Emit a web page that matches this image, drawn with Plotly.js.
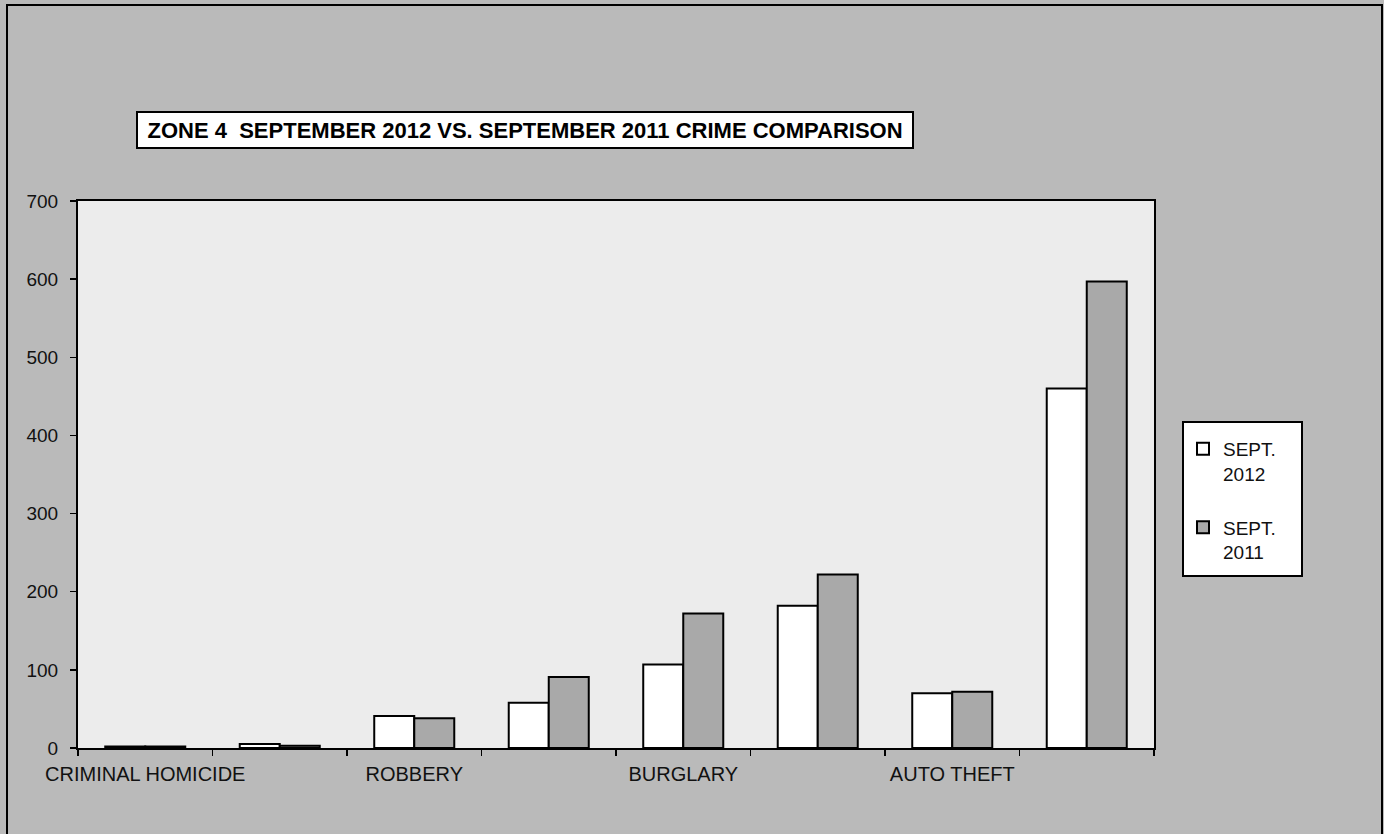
<!DOCTYPE html>
<html>
<head>
<meta charset="utf-8">
<script src="https://cdn.plot.ly/plotly-3.0.1.min.js"></script>
<style>
html,body{margin:0;padding:0;background:#bababa;}
#chart{width:1384px;height:834px;}
</style>
</head>
<body>
<div id="chart"></div>
<script>
// Categories (Excel skipped every other axis label)
const categories = ['CRIMINAL HOMICIDE','RAPE','ROBBERY','AGGRAVATED ASSAULT','BURGLARY','LARCENY','AUTO THEFT','TOTAL'];
const tickLabels = ['CRIMINAL HOMICIDE','','ROBBERY','','BURGLARY','','AUTO THEFT',''];
const seriesNames = ['SEPT.<br>2012','SEPT.<br>2011'];
const sept2012 = [2, 5, 41, 58, 107, 182, 70, 460];
const sept2011 = [2, 3, 38, 91, 172, 222, 72, 597];
const yTicks = [0,100,200,300,400,500,600,700];
const titleText = 'ZONE 4&nbsp;&nbsp;SEPTEMBER 2012 VS. SEPTEMBER 2011 CRIME COMPARISON';

const FONT = 'Liberation Sans, Arial, sans-serif';

const traces = [
  {type:'bar', name:seriesNames[0], x:categories, y:sept2012, legendgroup:'a',
   marker:{color:'#ffffff', line:{color:'#000000', width:2}}},
  {type:'bar', name:seriesNames[1], x:categories, y:sept2011, legendgroup:'b',
   marker:{color:'#a9a9a9', line:{color:'#000000', width:2}}}
];

const layout = {
  width:1384, height:834,
  margin:{l:78, r:230, t:201, b:86, pad:0},
  paper_bgcolor:'#bababa',
  plot_bgcolor:'#ececec',
  font:{family:FONT, color:'#111111'},
  barmode:'group', bargap:0.405, bargroupgap:0,
  showlegend:true,
  title:{text:titleText, font:{family:FONT, size:22, color:'#000000', weight:'bold'},
         xref:'paper', x:0.4155, xanchor:'center', yref:'container', y:1-130/834, yanchor:'middle'},
  xaxis:{type:'category', tickmode:'array', tickvals:categories, ticktext:tickLabels, tickangle:0,
         tickson:'boundaries', ticks:'outside', ticklen:6, tickwidth:1.5, tickcolor:'#000',
         showline:true, linecolor:'#000', linewidth:2, mirror:true, showgrid:false,
         tickfont:{family:FONT, size:20, color:'#111'}, ticklabelstandoff:7, automargin:false},
  yaxis:{range:[0,700], tickmode:'array', tickvals:yTicks, ticks:'outside', ticklen:6, tickwidth:1.5,
         tickcolor:'#000', showline:true, linecolor:'#000', linewidth:2, mirror:true,
         showgrid:false, zeroline:false,
         tickfont:{family:FONT, size:19, color:'#111'}, ticklabelstandoff:8, automargin:false},
  legend:{x:(1183-78)/1076, xanchor:'left', y:(748-430)/547, yanchor:'top',
          bgcolor:'rgba(0,0,0,0)', borderwidth:0, traceorder:'grouped', tracegroupgap:26,
          valign:'top', font:{family:FONT, size:19, color:'#111'}},
  shapes:[
    // title box
    {type:'rect', xref:'paper', yref:'paper', x0:(137-78)/1076, x1:(913-78)/1076,
     y0:(748-148)/547, y1:(748-112)/547, fillcolor:'#ffffff', line:{color:'#000', width:2}, layer:'above'},
    // legend box
    {type:'rect', xref:'paper', yref:'paper', x0:(1183-78)/1076, x1:(1302-78)/1076,
     y0:(748-576)/547, y1:(748-422)/547, fillcolor:'#ffffff', line:{color:'#000', width:2}, layer:'above'},
    // outer chart frame
    {type:'rect', xref:'paper', yref:'paper', x0:(7-78)/1076, x1:(1382-78)/1076,
     y0:(748-845)/547, y1:(748-5)/547, line:{color:'#000', width:2}, layer:'above'}
  ]
};

Plotly.newPlot('chart', traces, layout, {displayModeBar:false, staticPlot:true});
</script>
</body>
</html>
